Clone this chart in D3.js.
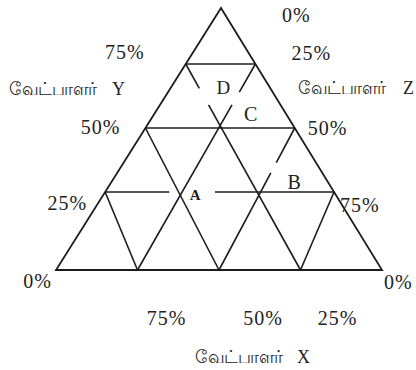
<!DOCTYPE html>
<html>
<head>
<meta charset="utf-8">
<script src="https://cdn.jsdelivr.net/npm/d3@7"></script>
<style>
  html, body { margin: 0; padding: 0; background: #fff; }
  svg { display: block; }
  text { font-family: "Liberation Serif", "DejaVu Serif", serif; fill: #222; }
</style>
</head>
<body>
<svg id="chart" width="416" height="370"></svg>
<script>
// grid levels (percent) and the drawn pieces of each grid line - the sketch leaves small gaps
const levels = [25, 50, 75];
const yPieces = [[[0, 21], [36, 75]], [[0, 50]], [[0, 25]]];        // horizontal, Y fixed, runs along Z
const zPieces = [[[0, 59], [64, 75]], [[0, 32.5], [36.5, 50]], [[0, 25]]]; // "/" lines, Z fixed, runs along Y
const xPieces = [[[0, 59], [65.5, 75]], [[0, 50]], [[0, 25]]];      // "\" lines, X fixed, runs along Y

// tick labels
const leftTicks = [0, 25, 50, 75];                 // Y on left edge
const leftLabels = ["0%", "25%", "50%", "75%"];
const rightTicks = [100, 75, 50, 25, 0];           // Y on right edge
const rightLabels = ["0%", "25%", "50%", "75%", "0%"];
const bottomTicks = [75, 50, 25];                  // X on bottom edge
const bottomLabels = ["75%", "50%", "25%"];

// region letters (X, Y, Z in percent)
const regionNames = ["A", "B", "C", "D"];
const regionX = [46, 11, 12, 16];
const regionY = [24, 29, 55.5, 66];
const regionZ = [30, 60, 32.5, 18];

const word = "வேட்பாளர்";
const axisLetters = ["X", "Y", "Z"];

// layout only
const leftNudge = [[-4, 11], [-18, 11], [-25, -1], [-41, -12]];
const rightNudge = [[61, 7], [36, -11], [13, 0], [6, 13], [2, 12]];
const bottomNudge = [[29, 48], [44, 48], [37, 48]];

const svg = d3.select("#chart");

// rows are a little uneven in the original drawing
const y = d3.scaleLinear().domain([0, 25, 50, 75, 100]).range([270, 192, 128, 64, 8]);
const xLeft = d3.scaleLinear().domain([270, 8]).range([56, 221]);
const xRight = d3.scaleLinear().domain([270, 8]).range([382, 221]);

function proj(X, Y, Z) {
  const py = y(Y);
  const s = X + Z;
  const f = s ? Z / s : 0.5;
  return [xLeft(py) + f * (xRight(py) - xLeft(py)), py];
}

// point at level Y on the straight segment a->b
function along(a, b, v) {
  const py = y(v);
  const t = (py - a[1]) / (b[1] - a[1]);
  return [a[0] + t * (b[0] - a[0]), py];
}

const segs = [];
levels.forEach((L, i) => {
  yPieces[i].forEach(([z0, z1]) => {
    segs.push([proj(100 - L - z0, L, z0), proj(100 - L - z1, L, z1)]);
  });
  const za = proj(100 - L, 0, L), zb = proj(0, 100 - L, L);
  zPieces[i].forEach(([v0, v1]) => segs.push([along(za, zb, v0), along(za, zb, v1)]));
  const xa = proj(L, 0, 100 - L), xb = proj(L, 100 - L, 0);
  xPieces[i].forEach(([v0, v1]) => segs.push([along(xa, xb, v0), along(xa, xb, v1)]));
});

const line = d3.line();

svg.append("path")
  .attr("d", line([proj(100, 0, 0), proj(0, 0, 100), proj(0, 100, 0)]) + "Z")
  .attr("fill", "none")
  .attr("stroke", "#1c1c1c")
  .attr("stroke-width", 1.8)
  .attr("stroke-linejoin", "miter");

svg.append("g").selectAll("path")
  .data(segs)
  .join("path")
  .attr("d", d => line(d))
  .attr("fill", "none")
  .attr("stroke", "#1c1c1c")
  .attr("stroke-width", 1.6);

const pct = svg.append("g").attr("font-size", 20).attr("letter-spacing", 1);

pct.selectAll(".lt").data(leftTicks).join("text")
  .attr("text-anchor", "end")
  .attr("x", (d, i) => proj(100 - d, d, 0)[0] + leftNudge[i][0])
  .attr("y", (d, i) => proj(100 - d, d, 0)[1] + leftNudge[i][1])
  .attr("dy", "0.33em")
  .text((d, i) => leftLabels[i]);

pct.selectAll(".rt").data(rightTicks).join("text")
  .attr("x", (d, i) => proj(0, d, 100 - d)[0] + rightNudge[i][0])
  .attr("y", (d, i) => proj(0, d, 100 - d)[1] + rightNudge[i][1])
  .attr("dy", "0.33em")
  .text((d, i) => rightLabels[i]);

pct.selectAll(".bt").data(bottomTicks).join("text")
  .attr("text-anchor", "middle")
  .attr("x", (d, i) => proj(d, 0, 100 - d)[0] + bottomNudge[i][0])
  .attr("y", (d, i) => proj(d, 0, 100 - d)[1] + bottomNudge[i][1])
  .attr("dy", "0.33em")
  .text((d, i) => bottomLabels[i]);

// region letters
const regSize = [15, 20, 20, 19];
svg.append("g").selectAll("text").data(regionNames).join("text")
  .attr("text-anchor", "middle")
  .attr("font-size", (d, i) => regSize[i])
  .attr("font-weight", (d, i) => i === 0 ? "bold" : "normal")
  .attr("fill", (d, i) => i === 3 ? "#555" : "#222")
  .attr("x", (d, i) => proj(regionX[i], regionY[i], regionZ[i])[0])
  .attr("y", (d, i) => proj(regionX[i], regionY[i], regionZ[i])[1])
  .attr("dy", "0.35em")
  .text(d => d);

// axis names: tamil word + letter
const names = [
  { letter: axisLetters[0], wordEnd: 283, letterX: 297, cy: 357 },
  { letter: axisLetters[1], wordEnd: 97, letterX: 112, cy: 89 },
  { letter: axisLetters[2], wordEnd: 386, letterX: 403, cy: 88 }
];
const ng = svg.append("g");
names.forEach(n => {
  ng.append("text")
    .attr("x", n.wordEnd - 88)
    .attr("y", n.cy)
    .attr("dy", "0.35em")
    .attr("font-size", 18)
    .attr("textLength", 88)
    .attr("lengthAdjust", "spacingAndGlyphs")
    .text(word);
  ng.append("text")
    .attr("x", n.letterX)
    .attr("y", n.cy)
    .attr("dy", "0.35em")
    .attr("font-size", 18)
    .text(n.letter);
});
</script>
</body>
</html>
